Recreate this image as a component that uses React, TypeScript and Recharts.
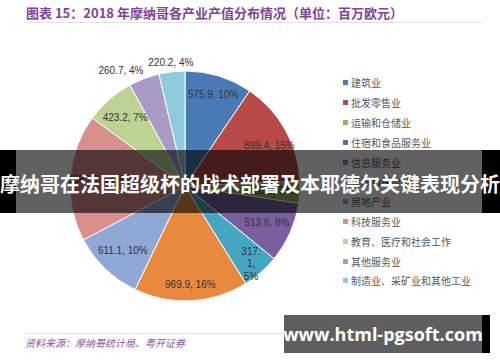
import React from 'react';
import { PieChart, Pie, Cell, Legend } from 'recharts';

const categories = [
  '建筑业',
  '批发零售业',
  '运输和仓储业',
  '住宿和食品服务业',
  '信息服务业',
  '金融和保险业',
  '房地产业',
  '科技服务业',
  '教育、医疗和社会工作',
  '其他服务业',
  '制造业、采矿业和其他工业',
];
const values = [575.9, 899.4, 185.0, 513.6, 317.1, 969.9, 611.1, 1080.0, 423.2, 260.7, 220.2];
const colors = [
  '#4a7ab5', '#b84a47', '#94b656', '#7a5fa0', '#45a6c0', '#e8893f',
  '#8fa8d6', '#d98f8d', '#bcd394', '#aa9bc6', '#8ecbdc',
];

const data = categories.map((name, i) => ({ name, value: values[i] }));

// label placement: fraction of the radius, plus a small nudge for crowded labels
const labelRadius = [0.83, 0.78, 0.75, 0.78, 0.87, 0.86, 0.78, 0.78, 0.79, 1.15, 1.08];
const labelNudge: [number, number][] = [
  [0, 0], [6, 3], [0, 0], [0, 0], [0, 0], [0, 0],
  [0, 0], [0, 0], [0, 0], [-17, 8], [0, 0],
];

const RAD = Math.PI / 180;

const renderLabel = (props: any) => {
  const { cx, cy, midAngle, outerRadius, percent, value, index } = props;
  const r = outerRadius * labelRadius[index];
  const x = cx + r * Math.cos(-midAngle * RAD) + labelNudge[index][0];
  const y = cy + r * Math.sin(-midAngle * RAD) + labelNudge[index][1];
  const pct = `${Math.round(percent * 100)}%`;
  const txt = `${value.toFixed(1)}, ${pct}`;
  const style = { fontSize: 10, fill: '#333', fontFamily: '"Liberation Sans", Arial, sans-serif' };
  if (index === 4) {
    // narrow slice: Excel wraps this label onto three lines
    const v = value.toFixed(1);
    return (
      <text x={x} y={y} textAnchor="middle" dominantBaseline="central" style={style}>
        <tspan x={x} dy={-10}>{v.slice(0, 4)}</tspan>
        <tspan x={x} dy={12}>{v.slice(4)},</tspan>
        <tspan x={x} dy={13}>{pct}</tspan>
      </text>
    );
  }
  return (
    <text x={x} y={y} textAnchor="middle" dominantBaseline="central" style={style}>
      {txt}
    </text>
  );
};

const renderLegend = () => (
  <div style={{ fontFamily: '"Noto Sans CJK SC", sans-serif', fontSize: 10, color: '#595959' }}>
    {categories.map((c, i) => (
      <div key={c} style={{ height: 19.8, display: 'flex', alignItems: 'center' }}>
        <span style={{ width: 5, height: 5, background: colors[i], marginRight: 3, display: 'inline-block' }} />
        {c}
      </div>
    ))}
  </div>
);

export default function App() {
  return (
    <div style={{ position: 'absolute', left: 0, top: 0, width: 500, height: 362, background: '#fff', overflow: 'hidden' }}>
      <div
        style={{
          position: 'absolute', left: 26, top: 4, fontSize: 13, fontWeight: 700, color: '#80429a',
          fontFamily: '"Noto Sans CJK SC", sans-serif', whiteSpace: 'nowrap', lineHeight: '18px',
        }}
      >
        图表 15：2018 年摩纳哥各产业产值分布情况（单位：百万欧元）
      </div>
      <div style={{ position: 'absolute', left: 26, top: 22, width: 456, height: 1, background: '#e2e2e2' }} />

      <PieChart width={500} height={362} style={{ position: 'absolute', left: 0, top: 0 }}>
        <Pie
          data={data}
          dataKey="value"
          nameKey="name"
          cx={180}
          cy={181}
          outerRadius={115}
          startAngle={90}
          endAngle={-270}
          stroke="#fff"
          strokeWidth={1}
          label={renderLabel}
          labelLine={false}
          isAnimationActive={false}
        >
          {data.map((d, i) => (
            <Cell key={d.name} fill={colors[i]} />
          ))}
        </Pie>
        <Legend
          layout="vertical"
          verticalAlign="top"
          align="right"
          content={renderLegend}
          wrapperStyle={{ left: 343, top: 73, width: 150 }}
        />
      </PieChart>

      <div style={{ position: 'absolute', left: 25, top: 333, width: 270, height: 1, background: '#e6e6e6' }} />
      <div
        style={{
          position: 'absolute', left: 25, top: 336, fontSize: 10, fontStyle: 'italic', color: '#8a5aa0',
          fontFamily: '"Noto Sans CJK SC", sans-serif', whiteSpace: 'nowrap', lineHeight: '14px',
        }}
      >
        资料来源：摩纳哥统计局、粤开证券
      </div>

      {/* overlay banner */}
      <div style={{ position: 'absolute', left: 0, top: 150, width: 16, height: 63, background: '#000' }} />
      <div style={{ position: 'absolute', left: 482, top: 150, width: 18, height: 63, background: '#000' }} />
      <div style={{ position: 'absolute', left: 16, top: 150, width: 466, height: 63, background: 'rgba(0,0,0,0.62)' }} />
      <div
        style={{
          position: 'absolute', left: 0, top: 170, width: 500, textAlign: 'center', fontSize: 20, fontWeight: 700,
          color: '#fff', fontFamily: '"Noto Sans CJK SC", sans-serif', whiteSpace: 'nowrap', lineHeight: '28px',
        }}
      >
        摩纳哥在法国超级杯的战术部署及本耶德尔关键表现分析
      </div>

      {/* watermark */}
      <div style={{ position: 'absolute', left: 284, top: 315, width: 198, height: 38, background: 'rgba(0,0,0,0.63)' }} />
      <div style={{ position: 'absolute', left: 482, top: 315, width: 8, height: 38, background: '#000' }} />
      <div
        style={{
          position: 'absolute', left: 284, top: 315, width: 198, height: 38, display: 'flex', alignItems: 'center',
          justifyContent: 'center', fontSize: 18, fontWeight: 700, color: '#fff',
          fontFamily: '"Open Sans", sans-serif', whiteSpace: 'nowrap',
        }}
      >
        www.html-pgsoft.com
      </div>
    </div>
  );
}
